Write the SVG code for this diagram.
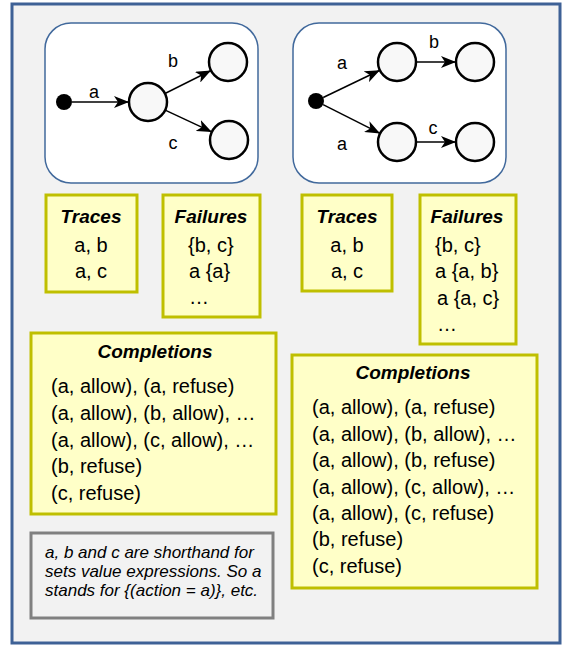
<svg xmlns="http://www.w3.org/2000/svg" width="571" height="646" viewBox="0 0 571 646">
<defs>
<style>
.frame{fill:#f2f2f2;stroke:#3e6196;stroke-width:3}
.sm{fill:#ffffff;stroke:#41699c;stroke-width:1.5}
.st{fill:#f8f8f8;stroke:#000;stroke-width:2.5}
.init{fill:#000}
.edge{stroke:#000;stroke-width:1.5;fill:none;marker-end:url(#arr)}
.ybox{fill:#ffffc8;stroke:#bfbf00;stroke-width:3}
.nbox{fill:#f2f2f2;stroke:#808080;stroke-width:3}
text{font-family:"Liberation Sans",Arial,sans-serif;fill:#000}
.lbl{font-size:18px}
.ttl{font-size:19px;font-weight:bold;font-style:italic}
.bd{font-size:20px}
.nt{font-size:17px;font-style:italic}
.c{text-anchor:middle}
</style>
<marker id="arr" markerUnits="userSpaceOnUse" markerWidth="16" markerHeight="12" refX="15" refY="6" orient="auto">
<path d="M0,0 L15,6 L0,12 L4,6 Z" fill="#000"/>
</marker>
</defs>
<rect class="frame" x="12" y="4" width="548" height="639"/>

<g id="sm-left">
<rect class="sm" x="45" y="23" width="213" height="160" rx="26"/>
</g>
<g id="left-init"><circle class="init" cx="64" cy="102" r="8"/></g>
<g id="left-s1"><circle class="st" cx="148" cy="102" r="19"/></g>
<g id="left-s2"><circle class="st" cx="228" cy="62" r="19"/></g>
<g id="left-s3"><circle class="st" cx="229" cy="140" r="19"/></g>

<g id="sm-right">
<rect class="sm" x="293" y="23" width="213" height="160" rx="26"/>
</g>
<g id="right-init"><circle class="init" cx="316" cy="101" r="8"/></g>
<g id="right-s1"><circle class="st" cx="397" cy="62" r="19"/></g>
<g id="right-s2"><circle class="st" cx="475" cy="62" r="19"/></g>
<g id="right-s3"><circle class="st" cx="397" cy="142" r="19"/></g>
<g id="right-s4"><circle class="st" cx="475" cy="142" r="19"/></g>

<g id="connectors">
<line class="edge" x1="72" y1="102" x2="129" y2="102"/>
<line class="edge" x1="165" y1="93.5" x2="211" y2="70.5"/>
<line class="edge" x1="165.2" y1="110.1" x2="211.8" y2="131.9"/>
<line class="edge" x1="323.2" y1="97.5" x2="379.9" y2="70.2"/>
<line class="edge" x1="323.1" y1="104.6" x2="380.1" y2="133.4"/>
<line class="edge" x1="416" y1="62" x2="456" y2="62"/>
<line class="edge" x1="416" y1="142" x2="456" y2="142"/>
<text class="lbl c" x="94" y="98">a</text>
<text class="lbl c" x="173" y="67">b</text>
<text class="lbl c" x="173" y="149">c</text>
<text class="lbl c" x="342" y="69">a</text>
<text class="lbl c" x="342" y="150">a</text>
<text class="lbl c" x="434" y="48">b</text>
<text class="lbl c" x="433" y="134">c</text>
</g>

<g id="traces-left">
<rect class="ybox" x="46" y="195" width="91" height="97"/>
<text class="ttl c" x="91" y="223">Traces</text>
<text class="bd c" x="91" y="252">a, b</text>
<text class="bd c" x="91" y="278">a, c</text>
</g>
<g id="failures-left">
<rect class="ybox" x="163" y="195" width="97" height="122"/>
<text class="ttl c" x="211" y="223">Failures</text>
<text class="bd" x="188" y="252">{b, c}</text>
<text class="bd" x="189" y="278">a {a}</text>
<text class="bd" x="189" y="304">…</text>
</g>
<g id="traces-right">
<rect class="ybox" x="302" y="195" width="90" height="96"/>
<text class="ttl c" x="347" y="223">Traces</text>
<text class="bd c" x="347" y="252">a, b</text>
<text class="bd c" x="347" y="278">a, c</text>
</g>
<g id="failures-right">
<rect class="ybox" x="420" y="195" width="96" height="149"/>
<text class="ttl c" x="467" y="223">Failures</text>
<text class="bd" x="435" y="252">{b, c}</text>
<text class="bd" x="435" y="278">a {a, b}</text>
<text class="bd" x="437" y="305">a {a, c}</text>
<text class="bd" x="437" y="331">…</text>
</g>
<g id="completions-left">
<rect class="ybox" x="31" y="333" width="245" height="181"/>
<text class="ttl c" x="155" y="358">Completions</text>
<text class="bd" x="51" y="393">(a, allow), (a, refuse)</text>
<text class="bd" x="51" y="420">(a, allow), (b, allow), …</text>
<text class="bd" x="51" y="447">(a, allow), (c, allow), …</text>
<text class="bd" x="51" y="473">(b, refuse)</text>
<text class="bd" x="51" y="500">(c, refuse)</text>
</g>
<g id="completions-right">
<rect class="ybox" x="292" y="355" width="245" height="233"/>
<text class="ttl c" x="413" y="379">Completions</text>
<text class="bd" x="312" y="414">(a, allow), (a, refuse)</text>
<text class="bd" x="312" y="441">(a, allow), (b, allow), …</text>
<text class="bd" x="312" y="467">(a, allow), (b, refuse)</text>
<text class="bd" x="312" y="494">(a, allow), (c, allow), …</text>
<text class="bd" x="312" y="520">(a, allow), (c, refuse)</text>
<text class="bd" x="312" y="546">(b, refuse)</text>
<text class="bd" x="312" y="573">(c, refuse)</text>
</g>
<g id="note">
<rect class="nbox" x="31" y="533" width="242" height="85"/>
<text class="nt" x="45" y="558">a, b and c are shorthand for</text>
<text class="nt" x="45" y="577">sets value expressions. So a</text>
<text class="nt" x="45" y="596">stands for {(action = a)}, etc.</text>
</g>
</svg>
